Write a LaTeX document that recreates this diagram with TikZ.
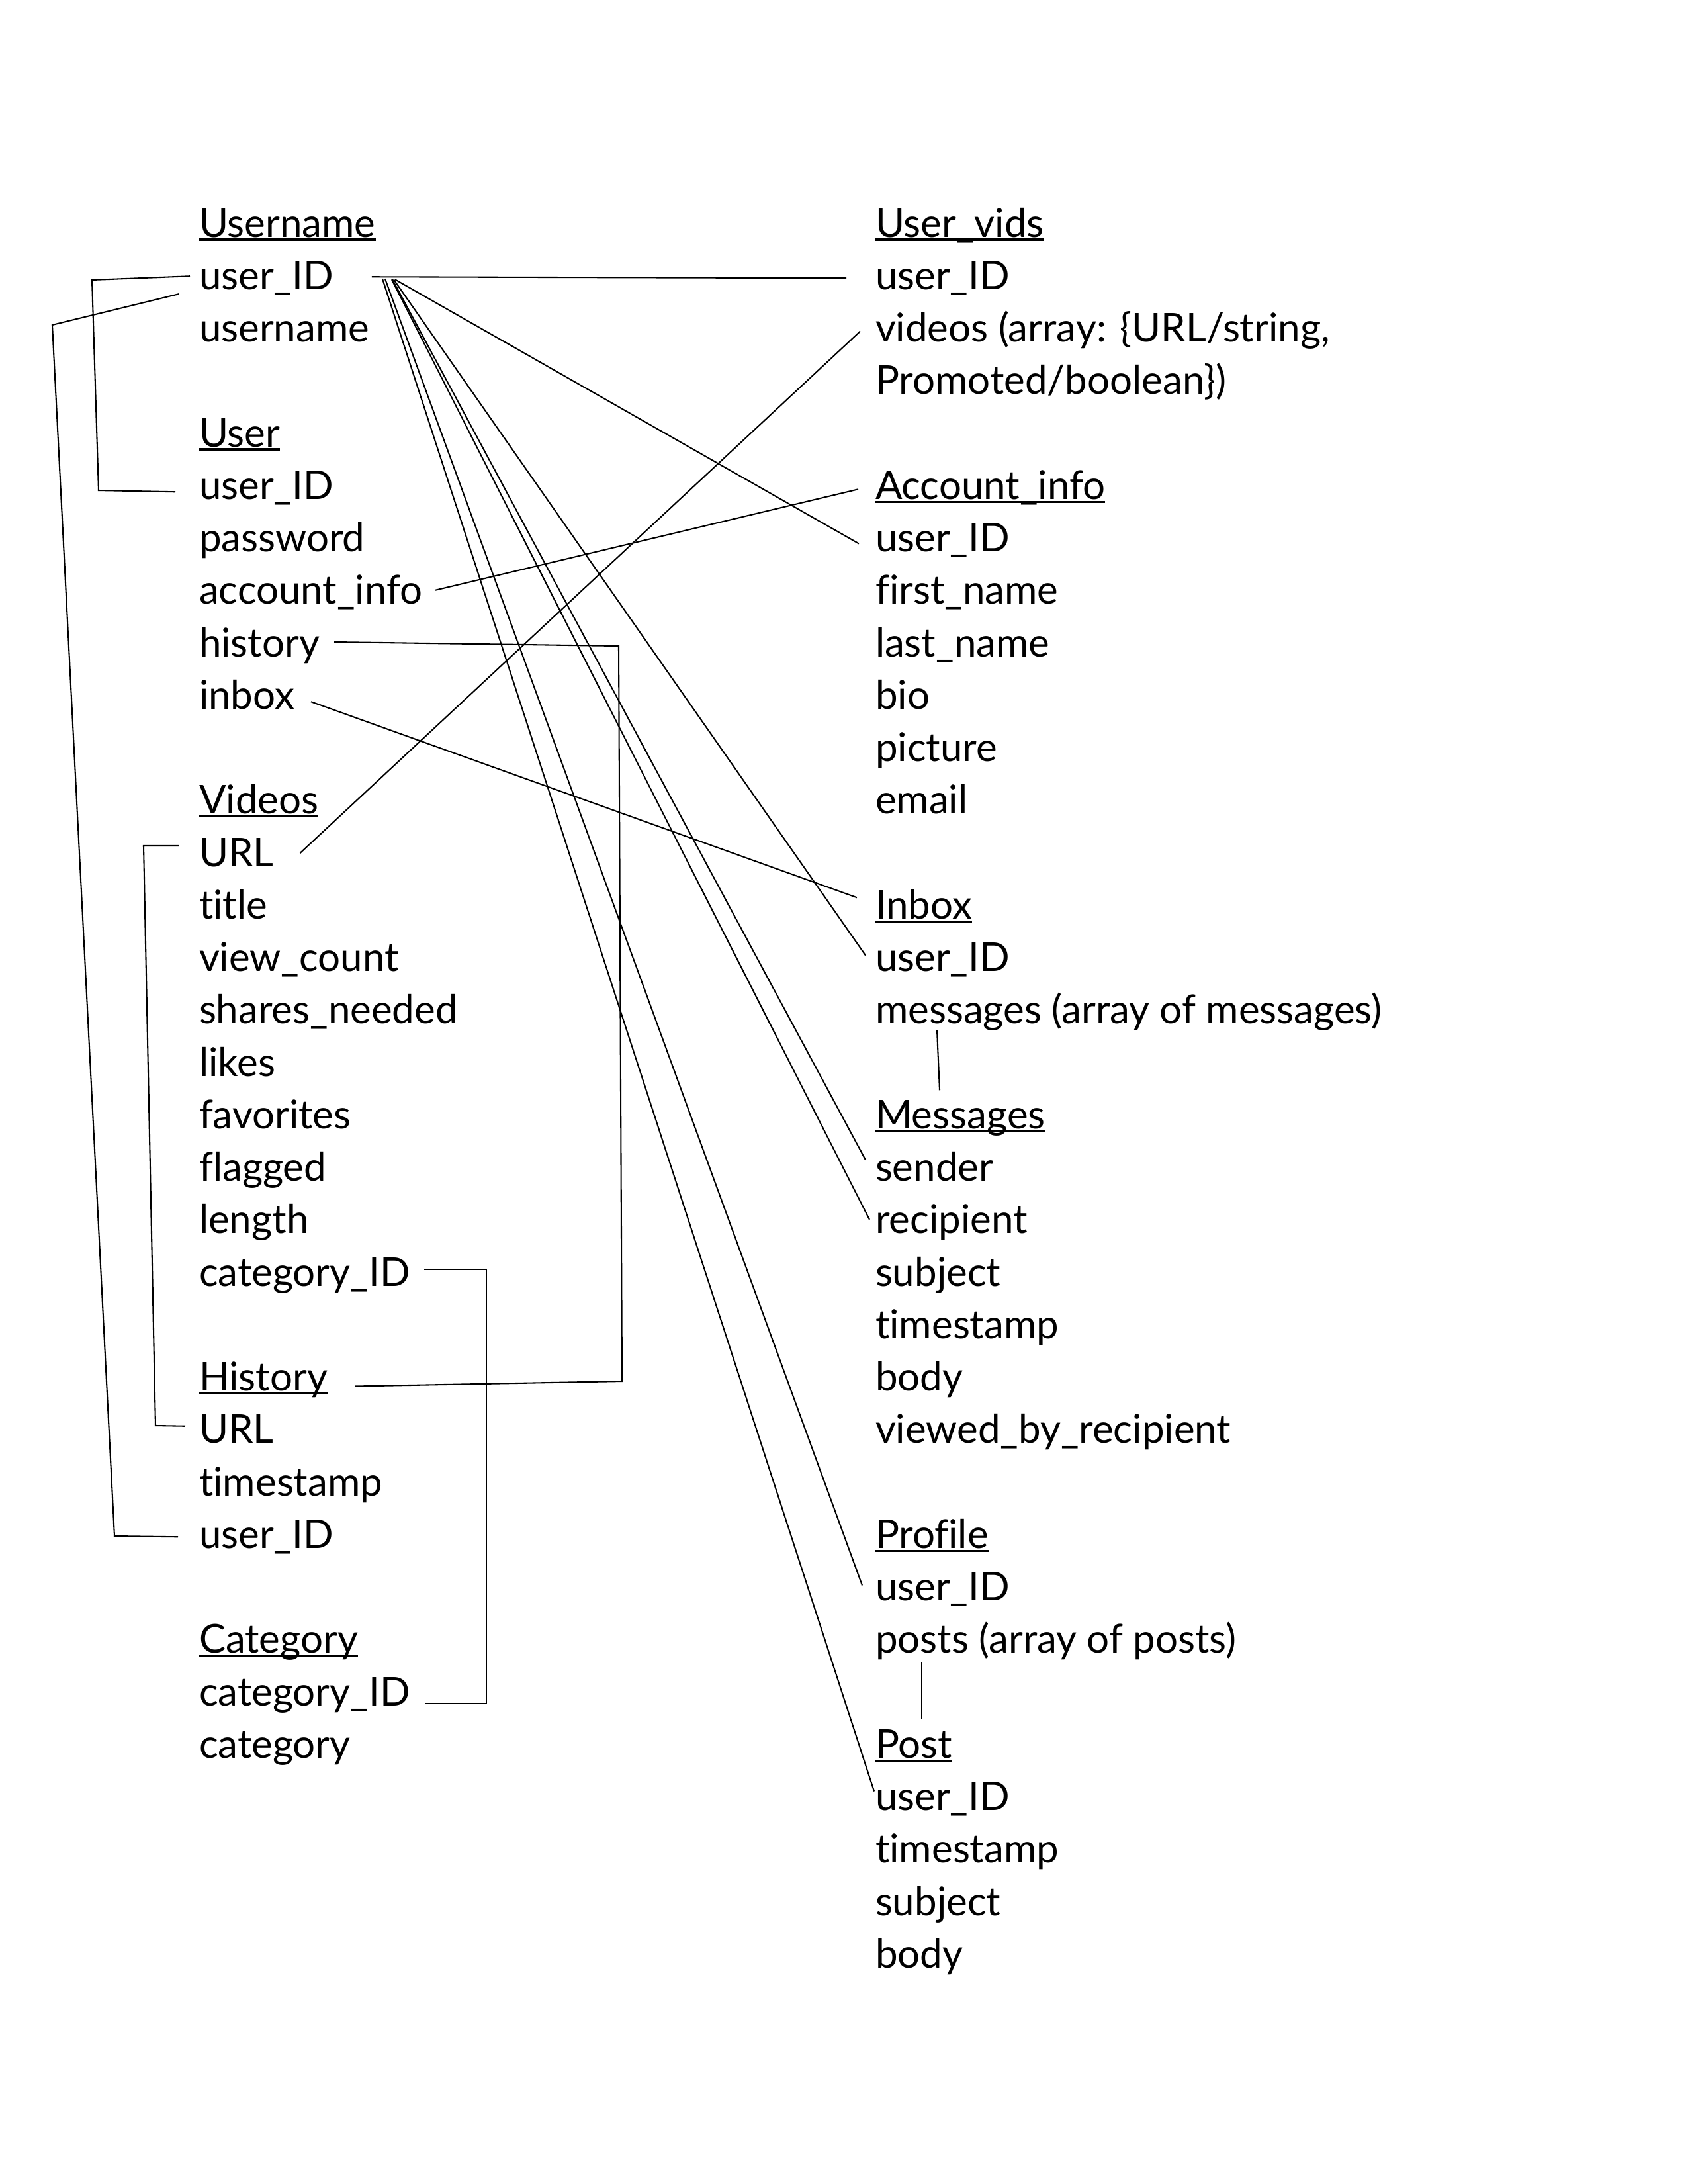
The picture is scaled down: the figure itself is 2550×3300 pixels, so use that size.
\documentclass[tikz,border=0pt]{standalone}
\usepackage{fontspec}
\setmainfont{Lato}[Ligatures={NoCommon,NoRequired,NoContextual,NoRare}]
\usetikzlibrary{calc}
\newcommand\Lrow[3]{\node[txt] (#1) at (301,{358+79.25*#2}) {#3};}
\newcommand\Rrow[3]{\node[txt] (#1) at (1323,{358+79.25*#2}) {#3};}
\newcommand\Ulin[1]{\draw[uline] ($(#1.base west)+(0,4)$) -- ($(#1.base east)+(0,4)$);}
\begin{document}
\begin{tikzpicture}[x=0.24pt,y=-0.24pt,
  txt/.style={anchor=base west,inner sep=0pt,outer sep=0pt,font=\fontsize{14.4pt}{17pt}\selectfont},
  conn/.style={line width=0.5pt},
  uline/.style={line width=0.75pt}]
\useasboundingbox[fill=white] (0,0) rectangle (2550,3300);
% left column
\Lrow{L0}{0}{Username}
\Lrow{L1}{1}{user\_ID}
\Lrow{L2}{2}{username}
\Lrow{L4}{4}{User}
\Lrow{L5}{5}{user\_ID}
\Lrow{L6}{6}{password}
\Lrow{L7}{7}{account\_info}
\Lrow{L8}{8}{history}
\Lrow{L9}{9}{inbox}
\Lrow{L11}{11}{Videos}
\Lrow{L12}{12}{URL}
\Lrow{L13}{13}{title}
\Lrow{L14}{14}{view\_count}
\Lrow{L15}{15}{shares\_needed}
\Lrow{L16}{16}{likes}
\Lrow{L17}{17}{favorites}
\Lrow{L18}{18}{flagged}
\Lrow{L19}{19}{length}
\Lrow{L20}{20}{category\_ID}
\Lrow{L22}{22}{History}
\Lrow{L23}{23}{URL}
\Lrow{L24}{24}{timestamp}
\Lrow{L25}{25}{user\_ID}
\Lrow{L27}{27}{Category}
\Lrow{L28}{28}{category\_ID}
\Lrow{L29}{29}{category}
% right column
\Rrow{R0}{0}{User\_vids}
\Rrow{R1}{1}{user\_ID}
\Rrow{R2}{2}{videos (array: \{URL/string,}
\Rrow{R3}{3}{Promoted/boolean\})}
\Rrow{R5}{5}{Account\_info}
\Rrow{R6}{6}{user\_ID}
\Rrow{R7}{7}{first\_name}
\Rrow{R8}{8}{last\_name}
\Rrow{R9}{9}{bio}
\Rrow{R10}{10}{picture}
\Rrow{R11}{11}{email}
\Rrow{R13}{13}{Inbox}
\Rrow{R14}{14}{user\_ID}
\Rrow{R15}{15}{messages (array of messages)}
\Rrow{R17}{17}{Messages}
\Rrow{R18}{18}{sender}
\Rrow{R19}{19}{recipient}
\Rrow{R20}{20}{subject}
\Rrow{R21}{21}{timestamp}
\Rrow{R22}{22}{body}
\Rrow{R23}{23}{viewed\_by\_recipient}
\Rrow{R25}{25}{Profile}
\Rrow{R26}{26}{user\_ID}
\Rrow{R27}{27}{posts (array of posts)}
\Rrow{R29}{29}{Post}
\Rrow{R30}{30}{user\_ID}
\Rrow{R31}{31}{timestamp}
\Rrow{R32}{32}{subject}
\Rrow{R33}{33}{body}
% underlines of table names
\Ulin{L0}\Ulin{L4}\Ulin{L11}\Ulin{L22}\Ulin{L27}
\Ulin{R0}\Ulin{R5}\Ulin{R13}\Ulin{R17}\Ulin{R25}\Ulin{R29}
% left brackets
\draw[conn] ($(L1.base west)+(-14,-20)$) -- (139,423) -- (149,741) -- ($(L5.base west)+(-36,-11)$);
\draw[conn] ($(L1.base west)+(-31,7)$) -- (79,491) -- (173,2321) -- ($(L25.base west)+(-32,-17)$);
\draw[conn] ($(L12.base west)+(-31,-31)$) -- (217,1278) -- (235,2154) -- ($(L23.base west)+(-21,-26)$);
% right brackets
\draw[conn] ($(L20.base east)+(21,-25)$) -| (735,2574) -- ($(L28.base east)+(23,-3)$);
\draw[conn] ($(L8.base east)+(22,-22)$) -- (935,976) -- (940,2087) -- ($(L22.base east)+(42,-7)$);
% cross lines
\draw[conn] ($(L7.base east)+(20,-21)$) -- ($(R5.base west)+(-26,-15)$);
\draw[conn] ($(L9.base east)+(25,-11)$) -- ($(R13.base west)+(-28,-32)$);
\draw[conn] ($(L12.base east)+(40,-20)$) -- ($(R2.base west)+(-23,-16)$);
% fan from Username.user_ID
\draw[conn] ($(L1.base east)+(58,-19)$) -- ($(R1.base west)+(-44,-17)$);
\coordinate (fan) at ($(L1.base east)+(74,-16)$);
\draw[conn] (fan) -- ($(R30.base west)+(-2,-29)$);
\draw[conn] ($(fan)+(4,0)$) -- ($(R26.base west)+(-20,-23)$);
\draw[conn] ($(fan)+(14,1)$) -- ($(R19.base west)+(-9,-21)$);
\draw[conn] ($(fan)+(15,1)$) -- ($(R18.base west)+(-15,-32)$);
\draw[conn] ($(fan)+(17,1)$) -- ($(R14.base west)+(-15,-24)$);
\draw[conn] ($(fan)+(19,1)$) -- ($(R6.base west)+(-25,-12)$);
% array links
\draw[conn] ($(R15.base west)+(93,10)$) -- ($(R17.base west)+(97,-58)$);
\draw[conn] ($(R27.base west)+(70,14)$) -- ($(R29.base west)+(70,-58)$);
\end{tikzpicture}
\end{document}
